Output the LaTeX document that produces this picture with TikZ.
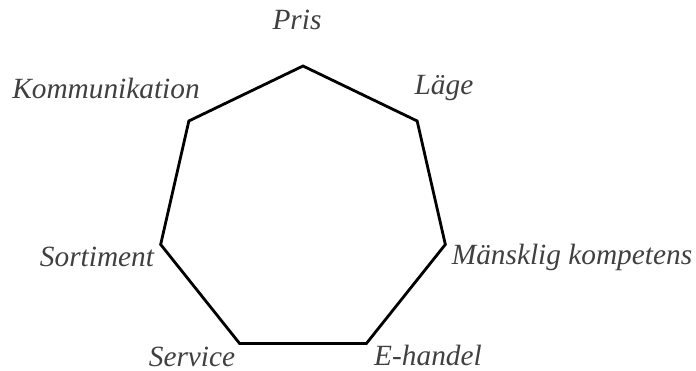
\documentclass[tikz,border=0pt]{standalone}
\usepackage{fontspec}
\setmainfont{Liberation Serif}
\usepackage{xcolor}
\definecolor{label-grey}{HTML}{404040}

\begin{document}
\begin{tikzpicture}[x=0.02cm, y=-0.02cm,
    edge/.style={line width=1.6pt, line join=miter},
    lbl/.style={font=\fontsize{16.7}{20}\selectfont\itshape, text=label-grey, inner sep=0pt}]
    \useasboundingbox (0,0) rectangle (696,371);
    % vertices of the heptagon
    \foreach \i in {1,...,7}
      \coordinate (v\i) at ({303+146*cos(90-(\i-1)*360/7)}, {212-146*sin(90-(\i-1)*360/7)});
    \draw[edge] (v1) -- (v2) -- (v3) -- (v4) -- (v5) -- (v6) -- (v7) -- cycle;
    % labels
    \node[lbl] (pris) at (297,20) {Pris};
    \node[lbl] (lage) at (444,88) {Läge};
    \node[lbl] (mansklig) at (572,257) {Mänsklig kompetens};
    \node[lbl] (ehandel) at (428,355) {E-handel};
    \node[lbl] (service) at (192,357) {Service};
    \node[lbl] (sortiment) at (97,257) {Sortiment};
    \node[lbl] (kommunikation) at (106,88) {Kommunikation};
\end{tikzpicture}
\end{document}
